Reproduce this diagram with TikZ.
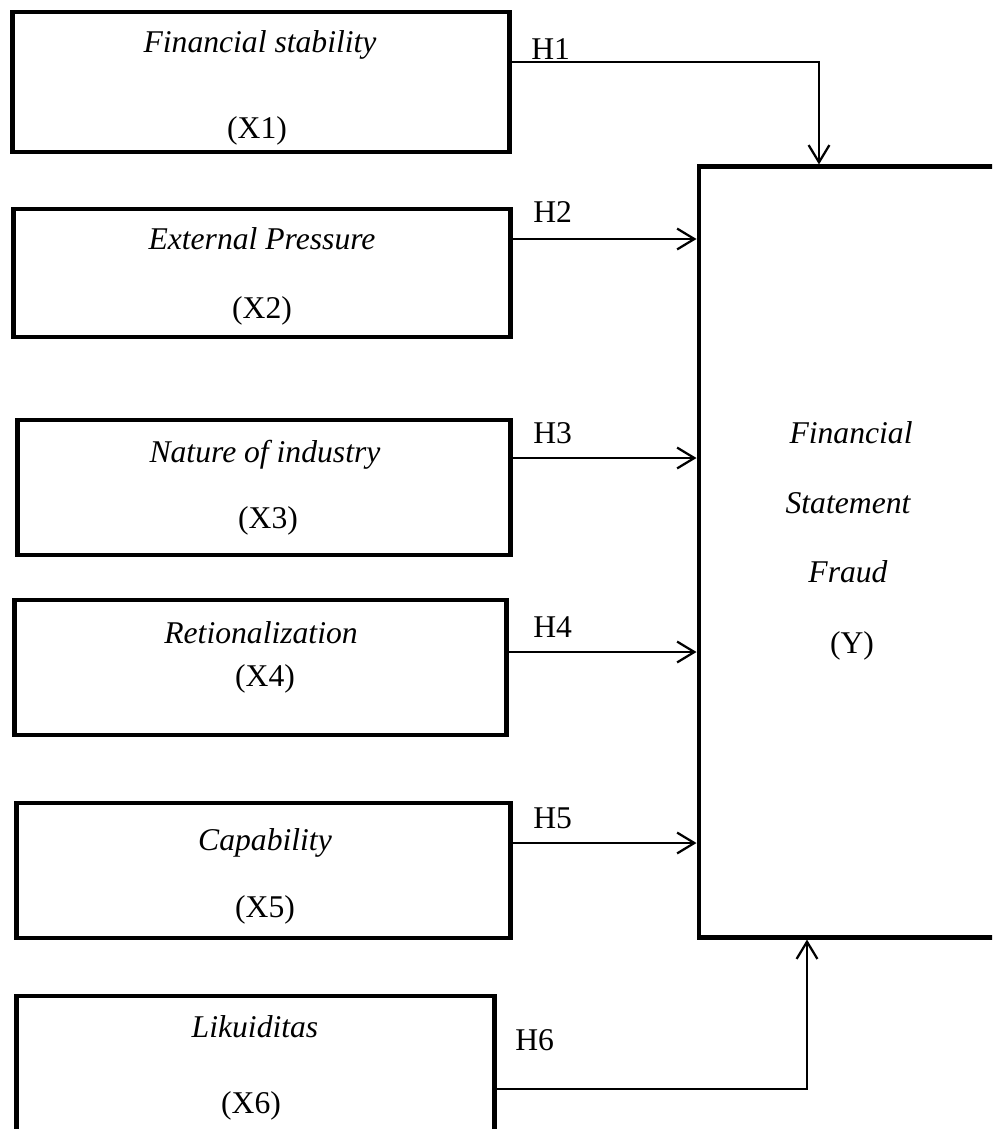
\documentclass[tikz,border=0pt]{standalone}
\usepackage{fontspec}
\setmainfont{Liberation Serif}
\usepackage{tikz}
\usetikzlibrary{arrows.meta,positioning}

\begin{document}
\begin{tikzpicture}[x=0.025cm,y=-0.025cm]
\tikzstyle{box}=[rectangle,draw=black,line width=3.5pt,inner sep=0pt]
\tikzstyle{vartitle}=[anchor=base,inner sep=0pt,font=\fontsize{22.5}{26}\selectfont\itshape]
\tikzstyle{varsymbol}=[anchor=base,inner sep=0pt,font=\fontsize{22.5}{26}\selectfont]
\tikzstyle{hyplabel}=[anchor=base west,inner sep=0pt,font=\fontsize{22.5}{26}\selectfont]
\tikzstyle{hyparrow}=[line width=1.5pt,-{Straight Barb[length=0.43cm,width=0.52cm,line width=1.6pt]}]
\useasboundingbox (0,0) rectangle (992,1129);
\clip (0,0) rectangle (992,1129);
% variables
\node [box,minimum width=12.425cm,minimum height=3.5cm] (b1) at (261,82) {};
\node [box,minimum width=12.4cm,minimum height=3.2cm] (b2) at (262,273) {};
\node [box,minimum width=12.3cm,minimum height=3.375cm] (b3) at (264,487.5) {};
\node [box,minimum width=12.275cm,minimum height=3.375cm] (b4) at (260.5,667.5) {};
\node [box,minimum width=12.325cm,minimum height=3.375cm] (b5) at (263.5,870.5) {};
\node [box,minimum width=11.925cm,minimum height=4.35cm] (b6) at (255.5,1083) {};
\node [box,minimum width=9.025cm,minimum height=19.25cm] (y) at (879.5,552) {};
% texts
\node [vartitle] (n1) at (260,53) {Financial stability};
\node [varsymbol] (x1) at (257,139) {(X1)};
\node [vartitle] (n2) at (262,249) {External Pressure};
\node [varsymbol] (x2) at (262,318) {(X2)};
\node [vartitle] (n3) at (265,462) {Nature of industry};
\node [varsymbol] (x3) at (268,528) {(X3)};
\node [vartitle] (n4) at (261,643) {Retionalization};
\node [varsymbol] (x4) at (265,686) {(X4)};
\node [vartitle] (n5) at (265,850) {Capability};
\node [varsymbol] (x5) at (265,917) {(X5)};
\node [vartitle] (n6) at (255,1037) {Likuiditas};
\node [varsymbol] (x6) at (251,1113) {(X6)};
\node [vartitle] (ny1) at (851,443) {Financial};
\node [vartitle] (ny2) at (848,513) {Statement};
\node [vartitle] (ny3) at (848,582) {Fraud};
\node [varsymbol] (ny4) at (852,653) {(Y)};
% hypotheses
\node [hyplabel] (h1) at (531,60) {H1};
\node [hyplabel] (h2) at (533,223) {H2};
\node [hyplabel] (h3) at (533,443) {H3};
\node [hyplabel] (h4) at (533,637) {H4};
\node [hyplabel] (h5) at (533,828) {H5};
\node [hyplabel] (h6) at (515,1050) {H6};
\draw [hyparrow] (b1.east |- 0,62) -| (y.north -| 819,0);
\draw [hyparrow] (b2.east |- 0,239) -- (y.west |- 0,239);
\draw [hyparrow] (b3.east |- 0,458) -- (y.west |- 0,458);
\draw [hyparrow] (b4.east |- 0,652) -- (y.west |- 0,652);
\draw [hyparrow] (b5.east |- 0,843) -- (y.west |- 0,843);
\draw [hyparrow] (b6.east |- 0,1089) -| (y.south -| 807,0);
\end{tikzpicture}
\end{document}
